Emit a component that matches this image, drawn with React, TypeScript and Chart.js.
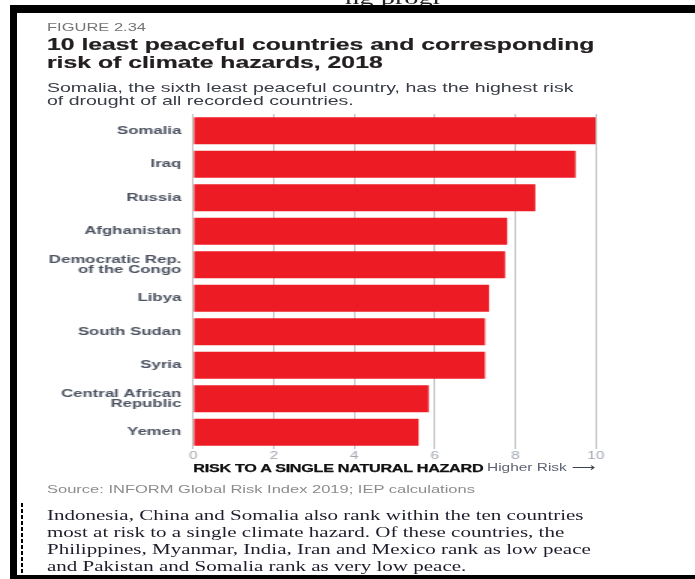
import React, { useEffect, useRef } from 'react';
import { Chart, registerables } from 'chart.js';

Chart.register(...registerables);

// ---- data ----
const countries = [
  'Somalia',
  'Iraq',
  'Russia',
  'Afghanistan',
  'Democratic Rep.|of the Congo',
  'Libya',
  'South Sudan',
  'Syria',
  'Central African|Republic',
  'Yemen',
];
const riskValues = [10, 9.5, 8.5, 7.8, 7.75, 7.35, 7.25, 7.25, 5.85, 5.6];
const riskTicks = [0, 2, 4, 6, 8, 10];

// ---- layout helpers (the whole figure is horizontally stretched) ----
const SX = 1.5;
const W = 695 / SX;
const sans = "'Liberation Sans', Arial, sans-serif";
const serif = "'Liberation Serif', 'Times New Roman', serif";

const CANVAS_TOP = 100;
const CANVAS_H = 380;
const AREA_LEFT = 193.3 / SX;
const AREA_RIGHT = 595.7 / SX;
const CANVAS_W = 463;

export default function App() {
  const ref = useRef<HTMLCanvasElement>(null);

  useEffect(() => {
    const chart = new Chart(ref.current!, {
      type: 'bar',
      data: {
        labels: countries.map((c) => c.split('|')),
        datasets: [
          {
            data: riskValues,
            backgroundColor: '#ed1c24',
            borderWidth: 0,
            barPercentage: 0.8,
            categoryPercentage: 1,
          },
        ],
      },
      options: {
        responsive: false,
        animation: false,
        indexAxis: 'y',
        events: [],
        layout: {
          padding: { left: 0, right: CANVAS_W - AREA_RIGHT, top: 114 - CANVAS_TOP, bottom: 0 },
        },
        plugins: {
          legend: { display: false },
          tooltip: { enabled: false },
          title: { display: false },
        },
        scales: {
          x: {
            type: 'linear',
            position: 'bottom',
            min: 0,
            max: 10,
            afterBuildTicks: (s: any) => {
              s.ticks = riskTicks.map((v) => ({ value: v }));
            },
            afterFit: (s: any) => {
              s.height = CANVAS_TOP + CANVAS_H - 449;
            },
            ticks: {
              color: '#a0a6b0',
              padding: 2,
              font: { family: sans, size: 10.2, lineHeight: 1 },
            },
            grid: { color: '#c2c2c2', lineWidth: 1, drawTicks: false },
            border: { display: false },
          },
          y: {
            afterFit: (s: any) => {
              s.width = AREA_LEFT;
            },
            ticks: {
              color: '#4b5260',
              padding: 8,
              font: { family: sans, size: 11.2, weight: 'bold', lineHeight: 0.9 },
            },
            grid: { display: false, drawTicks: false },
            border: { display: false },
          },
        },
      },
    } as any);
    return () => chart.destroy();
  }, []);

  const abs = (l: number, t: number): React.CSSProperties => ({
    position: 'absolute',
    left: l,
    top: t,
    whiteSpace: 'nowrap',
    margin: 0,
  });

  return (
    <div
      style={{
        position: 'fixed',
        left: 0,
        top: 0,
        width: 695,
        height: 579,
        overflow: 'hidden',
        background: '#fff',
      }}
    >
      <div
        style={{
          position: 'absolute',
          left: 0,
          top: 0,
          width: W,
          height: 579,
          transform: `scaleX(${SX})`,
          transformOrigin: '0 0',
        }}
      >
        {/* cut-off text of the page above */}
        <div style={{ ...abs(345 / SX, -12), font: `19px ${serif}`, lineHeight: '19px', color: '#222' }}>
          ng progr
        </div>

        <div style={{ ...abs(47 / SX, 20.5), font: `11px ${sans}`, lineHeight: '12px', color: '#747474' }}>
          FIGURE 2.34
        </div>

        <div
          style={{
            ...abs(47 / SX, 35.3),
            font: `bold 16.5px ${sans}`,
            lineHeight: '18px',
            color: '#231f20',
            WebkitTextStroke: '0.2px #231f20',
          }}
        >
          10 least peaceful countries and corresponding
          <br />
          risk of climate hazards, 2018
        </div>

        <div style={{ ...abs(47 / SX, 80.7), font: `13px ${sans}`, lineHeight: '13.5px', color: '#383c45' }}>
          Somalia, the sixth least peaceful country, has the highest risk
          <br />
          of drought of all recorded countries.
        </div>

        <canvas
          ref={ref}
          width={CANVAS_W}
          height={CANVAS_H}
          style={{ position: 'absolute', left: 0, top: CANVAS_TOP, width: CANVAS_W, height: CANVAS_H }}
        />

        <div
          style={{
            ...abs(AREA_LEFT, 462.2),
            font: `bold 10.8px ${sans}`,
            lineHeight: '12px',
            letterSpacing: '-0.2px',
            color: '#111',
            WebkitTextStroke: '0.25px #111',
          }}
        >
          RISK TO A SINGLE NATURAL HAZARD
        </div>
        <div style={{ ...abs(487 / SX, 462.2), font: `10.3px ${sans}`, lineHeight: '12px', color: '#5d6373' }}>
          Higher Risk
        </div>
        <div
          style={{
            ...abs(572 / SX, 461.5),
            font: `11px 'DejaVu Sans', sans-serif`,
            lineHeight: '12px',
            color: '#3d4250',
          }}
        >
          ⟶
        </div>

        <div style={{ ...abs(47 / SX, 482.7), font: `11px ${sans}`, lineHeight: '12px', color: '#8c8c8c' }}>
          Source: INFORM Global Risk Index 2019; IEP calculations
        </div>

        <div style={{ ...abs(47 / SX, 507.3), font: `14px ${serif}`, lineHeight: '17px', color: '#1d1d2b' }}>
          Indonesia, China and Somalia also rank within the ten countries
          <br />
          most at risk to a single climate hazard. Of these countries, the
          <br />
          Philippines, Myanmar, India, Iran and Mexico rank as low peace
          <br />
          and Pakistan and Somalia rank as very low peace.
        </div>
      </div>

      {/* black frame */}
      <div style={{ position: 'absolute', left: 10, top: 5, width: 685, height: 8, background: '#000' }} />
      <div style={{ position: 'absolute', left: 10, top: 5, width: 7, height: 574, background: '#000' }} />
      <div style={{ position: 'absolute', left: 10, top: 575, width: 685, height: 4, background: '#000' }} />
      <div
        style={{
          position: 'absolute',
          left: 21,
          top: 503,
          width: 1.5,
          height: 72,
          background: 'repeating-linear-gradient(to bottom, #000 0 4px, transparent 4px 6px)',
        }}
      />
    </div>
  );
}
